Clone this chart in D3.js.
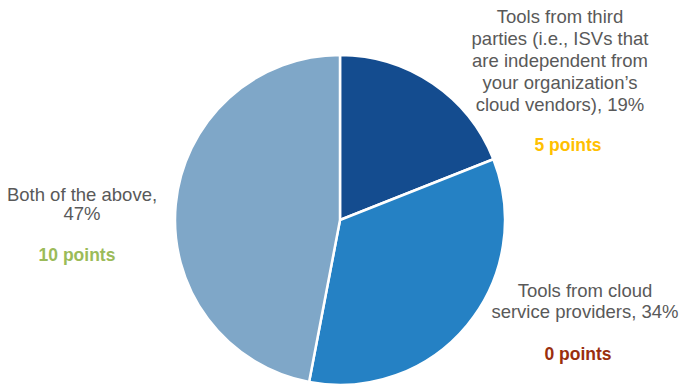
<!DOCTYPE html>
<html>
<head>
<meta charset="utf-8">
<script src="https://cdn.jsdelivr.net/npm/d3@7"></script>
<style>
  html, body { margin: 0; padding: 0; background: #fff; }
  svg { display: block; }
</style>
</head>
<body>
<svg id="chart" width="679" height="388"></svg>
<script>
// Share of respondents by tool source
const categories = [
  "Tools from third parties (i.e., ISVs that are independent from your organization’s cloud vendors)",
  "Tools from cloud service providers",
  "Both of the above"
];
const values = [19, 34, 47];
const points = ["5 points", "0 points", "10 points"];
const sliceColors = ["#144C8F", "#2581C4", "#7FA7C8"];
const pointColors = ["#FFC000", "#9A2F0E", "#9BBB59"];

// Label text broken into lines, as displayed
const labelLines = [
  ["Tools from third", "parties (i.e., ISVs that", "are independent from", "your organization’s", "cloud vendors), 19%"],
  ["Tools from cloud", "service providers, 34%"],
  ["Both of the above,", "47%"]
];

const svg = d3.select("#chart");
const cx = 340, cy = 220, r = 165;

const pie = d3.pie().sort(null).value(d => d)(values);
const arc = d3.arc().innerRadius(0).outerRadius(r);

const g = svg.append("g").attr("transform", `translate(${cx},${cy})`);
g.selectAll("path")
  .data(pie)
  .join("path")
  .attr("d", arc)
  .attr("fill", (d, i) => sliceColors[i])
  .attr("stroke", "#fff")
  .attr("stroke-width", 2.5)
  .attr("stroke-linejoin", "round");

// Label placement (line centre x, first baseline y, line step, points baseline)
const labelPos = [
  { x: 560, y: 23, step: 22, px: 568, py: 151 },
  { x: 585, y: 297, step: 21, px: 578, py: 360 },
  { x: 82, y: 201, step: 19, px: 77, py: 261 }
];

labelLines.forEach((lines, i) => {
  const p = labelPos[i];
  const t = svg.append("text")
    .attr("text-anchor", "middle")
    .attr("font-family", "Liberation Sans, Arial, sans-serif")
    .attr("font-size", 18.5)
    .attr("fill", "#595959");
  lines.forEach((line, j) => {
    t.append("tspan").attr("x", p.x).attr("y", p.y + j * p.step).text(line);
  });
  svg.append("text")
    .attr("x", p.px).attr("y", p.py)
    .attr("text-anchor", "middle")
    .attr("font-family", "Liberation Sans, Arial, sans-serif")
    .attr("font-size", 17.5)
    .attr("font-weight", "bold")
    .attr("fill", pointColors[i])
    .text(points[i]);
});
</script>
</body>
</html>
